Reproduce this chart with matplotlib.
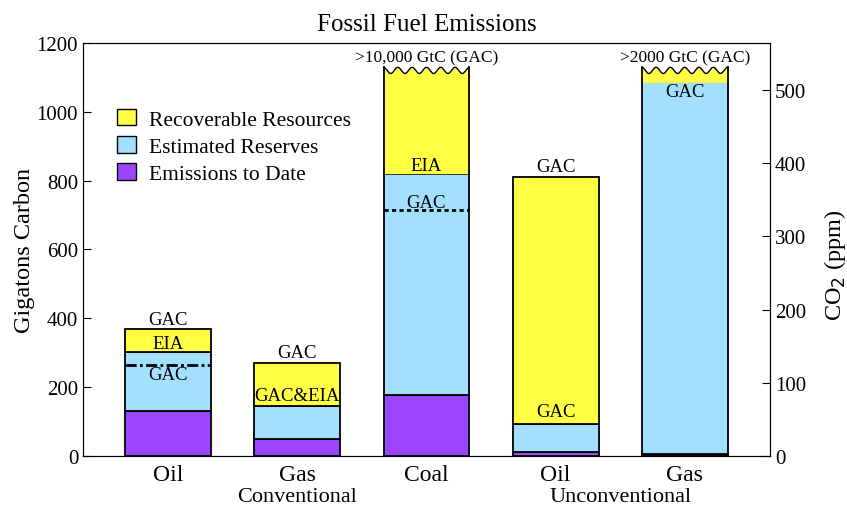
import matplotlib.pyplot as plt
import numpy as np
from matplotlib.patches import Patch

plt.rcParams['font.family'] = ['Liberation Serif', 'DejaVu Serif']

# fuel categories
fuels = ["Oil", "Gas", "Coal", "Oil", "Gas"]
groups = ["Conventional", "Unconventional"]

# gigatons carbon (cumulative tops of each stacked segment)
emissions = np.array([131, 49, 177, 12, 5])
reserves_top = np.array([302, 145, 820, 93, 1085])
resources_top = np.array([369, 270, 1120, 811, 1120])
gac_reserve_line = [265, None, 715, None, None]
wavy = [False, False, True, False, True]

pos = np.arange(len(fuels))
width = 0.665

c_yel = '#ffff44'
c_blue = '#a3e0ff'
c_pur = '#9b45ff'

fig = plt.figure(figsize=(8.47, 5.1), dpi=100)
ax = fig.add_axes([0.098, 0.104, 0.811, 0.81])

for i in range(len(fuels)):
    x0 = pos[i] - width / 2
    x1 = pos[i] + width / 2
    ax.bar(pos[i], emissions[i], width, color=c_pur, edgecolor='black', lw=1.3, zorder=3)
    ax.bar(pos[i], reserves_top[i] - emissions[i], width, bottom=emissions[i],
           color=c_blue, edgecolor='black', lw=1.3, zorder=3)
    if wavy[i]:
        # broken (off-scale) top drawn as a wavy edge
        xs = np.linspace(x0, x1, 200)
        ys = resources_top[i] + 9 * np.sin((xs - x0) / (x1 - x0) * 6 * 2 * np.pi + np.pi / 2)
        ax.fill_between(xs, reserves_top[i], ys, color=c_yel, lw=0, zorder=3)
        ax.plot(xs, ys, color='black', lw=1.0, zorder=4)
        ax.plot([x0, x0], [reserves_top[i], ys[0]], color='black', lw=1.3, zorder=4)
        ax.plot([x1, x1], [reserves_top[i], ys[-1]], color='black', lw=1.3, zorder=4)
    else:
        ax.bar(pos[i], resources_top[i] - reserves_top[i], width, bottom=reserves_top[i],
               color=c_yel, edgecolor='black', lw=1.3, zorder=3)
    if gac_reserve_line[i] is not None:
        ls = (0, (4, 1.2, 1, 1.2)) if i == 0 else (0, (1.5, 1.2))
        ax.plot([x0, x1], [gac_reserve_line[i]] * 2, color='black', lw=2, ls=ls, zorder=5)

# labels on bars
fs = 13.5
ax.text(pos[0], 397, "GAC", ha='center', va='center', fontsize=fs)
ax.text(pos[0], 328, "EIA", ha='center', va='center', fontsize=fs)
ax.text(pos[0], 237, "GAC", ha='center', va='center', fontsize=fs)
ax.text(pos[1], 300, "GAC", ha='center', va='center', fontsize=fs)
ax.text(pos[1], 175, "GAC&EIA", ha='center', va='center', fontsize=fs)
ax.text(pos[2], 843, "EIA", ha='center', va='center', fontsize=fs)
ax.text(pos[2], 737, "GAC", ha='center', va='center', fontsize=fs)
ax.text(pos[3], 841, "GAC", ha='center', va='center', fontsize=fs)
ax.text(pos[3], 130, "GAC", ha='center', va='center', fontsize=fs)
ax.text(pos[4], 1060, "GAC", ha='center', va='center', fontsize=fs)
ax.text(pos[2], 1157, ">10,000 GtC (GAC)", ha='center', va='center', fontsize=12.5)
ax.text(pos[4], 1157, ">2000 GtC (GAC)", ha='center', va='center', fontsize=12.5)

ax.set_xlim(-0.66, 4.66)
ax.set_ylim(0, 1200)
ax.set_yticks(range(0, 1201, 200))
ax.set_xticks(pos)
ax.set_xticklabels(fuels, fontsize=17)
ax.tick_params(axis='x', length=0, pad=6)
ax.tick_params(axis='y', direction='in', length=6, labelsize=15)
ax.set_ylabel("Gigatons Carbon", fontsize=17.5)
ax.yaxis.set_label_coords(-0.07, 0.5)
ax.set_title("Fossil Fuel Emissions", fontsize=18, pad=9)

ax.text(1.0, -0.099, groups[0], transform=ax.get_xaxis_transform(), ha='center', va='center', fontsize=16)
ax.text(3.5, -0.099, groups[1], transform=ax.get_xaxis_transform(), ha='center', va='center', fontsize=16)

ax2 = ax.twinx()
ax2.set_ylim(0, 1200 / 2.127)
ax2.set_yticks(range(0, 501, 100))
ax2.tick_params(axis='y', direction='in', length=6, labelsize=15)
ax2.set_ylabel("CO$_2$ (ppm)", fontsize=17.5)
ax2.yaxis.set_label_coords(1.076, 0.465)

handles = [Patch(facecolor=c_yel, edgecolor='black', label='Recoverable Resources'),
           Patch(facecolor=c_blue, edgecolor='black', label='Estimated Reserves'),
           Patch(facecolor=c_pur, edgecolor='black', label='Emissions to Date')]
ax.legend(handles=handles, loc='upper left', bbox_to_anchor=(0.022, 0.887), frameon=False,
          fontsize=15.5, handlelength=0.85, handleheight=0.8, labelspacing=0.3,
          handletextpad=0.6)

plt.savefig("out.png")
